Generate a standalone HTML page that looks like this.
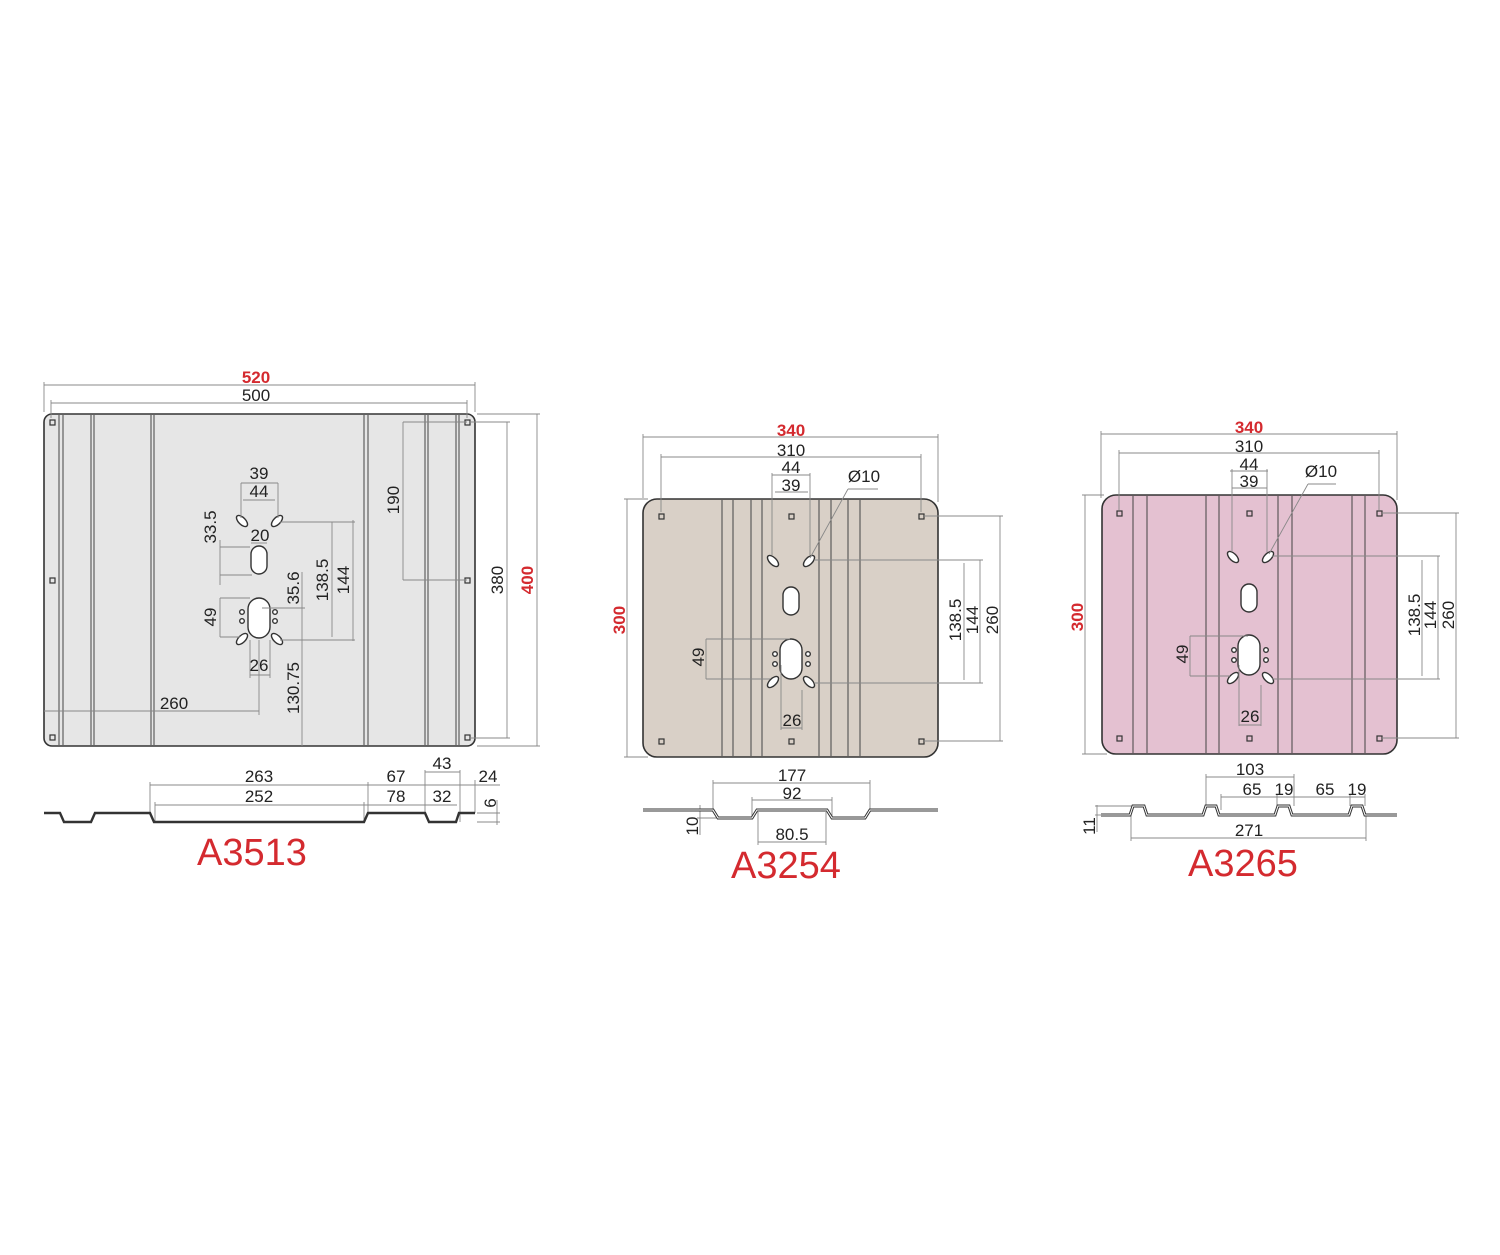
<!DOCTYPE html>
<html><head><meta charset="utf-8"><style>
html,body{margin:0;padding:0;background:#fff}
svg text{font-family:"Liberation Sans",sans-serif;font-size:17px;fill:#222;text-anchor:middle}
.r{fill:#d42a2f !important;font-weight:bold}
.big{font-size:38px;fill:#d42a2f}
.d{stroke:#888;stroke-width:0.9;fill:none}
.p{stroke:#333;stroke-width:1.6}
.g{stroke:#444;stroke-width:1}
.sq{fill:none;stroke:#333;stroke-width:1.2}
.h{fill:#fff;stroke:#333;stroke-width:1.4}
</style></head><body>
<svg width="1500" height="1250" viewBox="0 0 1500 1250" xmlns="http://www.w3.org/2000/svg">
<!-- PLATE 1 -->
<rect x="44" y="414" width="431" height="332" rx="8" fill="#e6e6e6" class="p"/>
<g class="g">
<line x1="59" y1="415" x2="59" y2="745"/><line x1="63" y1="415" x2="63" y2="745"/>
<line x1="91" y1="415" x2="91" y2="745"/><line x1="94" y1="415" x2="94" y2="745"/>
<line x1="151" y1="415" x2="151" y2="745"/><line x1="154" y1="415" x2="154" y2="745"/>
<line x1="364" y1="415" x2="364" y2="745"/><line x1="368" y1="415" x2="368" y2="745"/>
<line x1="425" y1="415" x2="425" y2="745"/><line x1="428" y1="415" x2="428" y2="745"/>
<line x1="456" y1="415" x2="456" y2="745"/><line x1="459" y1="415" x2="459" y2="745"/>
</g>
<g class="sq">
<rect x="50" y="420" width="5" height="5"/><rect x="50" y="578" width="5" height="5"/><rect x="50" y="735" width="5" height="5"/>
<rect x="465" y="420" width="5" height="5"/><rect x="465" y="578" width="5" height="5"/><rect x="465" y="735" width="5" height="5"/>
</g>
<g class="h">
<ellipse cx="242" cy="521" rx="3.5" ry="7" transform="rotate(-45 242 521)"/>
<ellipse cx="277" cy="521" rx="3.5" ry="7" transform="rotate(45 277 521)"/>
<ellipse cx="242" cy="639" rx="3.5" ry="7" transform="rotate(45 242 639)"/>
<ellipse cx="277" cy="639" rx="3.5" ry="7" transform="rotate(-45 277 639)"/>
<rect x="251" y="546" width="16" height="28" rx="8"/>
<rect x="248" y="598" width="22" height="40" rx="11"/>
<circle cx="242" cy="612" r="2.3"/><circle cx="242" cy="621" r="2.3"/>
<circle cx="275" cy="612" r="2.3"/><circle cx="275" cy="621" r="2.3"/>
</g>
<g class="d">
<line x1="44" y1="385" x2="475" y2="385"/><line x1="44" y1="382" x2="44" y2="412"/><line x1="475" y1="382" x2="475" y2="412"/>
<line x1="51" y1="403" x2="467" y2="403"/><line x1="51" y1="400" x2="51" y2="418"/><line x1="467" y1="400" x2="467" y2="418"/>
<line x1="537" y1="414" x2="537" y2="746"/><line x1="477" y1="414" x2="540" y2="414"/><line x1="477" y1="746" x2="540" y2="746"/>
<line x1="507" y1="422" x2="507" y2="738"/><line x1="470" y1="422" x2="510" y2="422"/><line x1="470" y1="738" x2="510" y2="738"/>
<line x1="403" y1="422" x2="403" y2="580"/><line x1="403" y1="422" x2="467" y2="422"/><line x1="403" y1="580" x2="467" y2="580"/>
<line x1="241" y1="483" x2="278" y2="483"/><line x1="241" y1="483" x2="241" y2="518"/><line x1="278" y1="483" x2="278" y2="518"/>
<line x1="243" y1="500" x2="275" y2="500"/>
<line x1="220" y1="540" x2="220" y2="585"/><line x1="220" y1="547" x2="250" y2="547"/><line x1="220" y1="575" x2="252" y2="575"/>
<line x1="251" y1="543" x2="267" y2="543"/>
<line x1="280" y1="522" x2="355" y2="522"/><line x1="280" y1="640" x2="355" y2="640"/>
<line x1="332" y1="522" x2="332" y2="637"/><line x1="353" y1="520" x2="353" y2="641"/>
<line x1="302" y1="572" x2="302" y2="746"/><line x1="262" y1="608" x2="305" y2="608"/>
<line x1="220" y1="598" x2="220" y2="637"/><line x1="220" y1="598" x2="250" y2="598"/><line x1="220" y1="637" x2="240" y2="637"/>
<line x1="250" y1="640" x2="250" y2="678"/><line x1="270" y1="640" x2="270" y2="678"/><line x1="250" y1="675" x2="270" y2="675"/>
<line x1="44" y1="711" x2="259" y2="711"/><line x1="259" y1="640" x2="259" y2="715"/>
<line x1="150" y1="785" x2="460" y2="785"/><line x1="150" y1="782" x2="150" y2="813"/><line x1="368" y1="782" x2="368" y2="813"/><line x1="425" y1="770" x2="425" y2="813"/>
<line x1="460" y1="770" x2="460" y2="822"/><line x1="475" y1="780" x2="475" y2="813"/>
<line x1="425" y1="772" x2="460" y2="772"/><line x1="460" y1="785" x2="500" y2="785"/>
<line x1="155" y1="805" x2="457" y2="805"/><line x1="155" y1="802" x2="155" y2="822"/><line x1="364" y1="802" x2="364" y2="822"/>
<line x1="497" y1="800" x2="497" y2="825"/><line x1="477" y1="813" x2="500" y2="813"/><line x1="477" y1="822" x2="500" y2="822"/>
</g>
<path d="M44,813 L60,813 L64,822 L91,822 L95,813 L150,813 L154,822 L364,822 L368,813 L425,813 L429,822 L456,822 L459,813 L475,813" fill="none" stroke="#333" stroke-width="2.4"/>
<text x="256" y="383" class="r">520</text>
<text x="256" y="401">500</text>
<text x="259" y="479">39</text>
<text x="259" y="497">44</text>
<text x="260" y="541">20</text>
<text x="259" y="671">26</text>
<text x="174" y="709">260</text>
<text transform="translate(216 527) rotate(-90)">33.5</text>
<text transform="translate(216 617) rotate(-90)">49</text>
<text transform="translate(299 588) rotate(-90)">35.6</text>
<text transform="translate(299 688) rotate(-90)">130.75</text>
<text transform="translate(328 580) rotate(-90)">138.5</text>
<text transform="translate(349 580) rotate(-90)">144</text>
<text transform="translate(399 500) rotate(-90)">190</text>
<text transform="translate(503 580) rotate(-90)">380</text>
<text transform="translate(533 580) rotate(-90)" class="r">400</text>
<text x="259" y="782">263</text>
<text x="259" y="802">252</text>
<text x="396" y="782">67</text>
<text x="396" y="802">78</text>
<text x="442" y="769">43</text>
<text x="442" y="802">32</text>
<text x="488" y="782">24</text>
<text transform="translate(496 803) rotate(-90)">6</text>
<text x="252" y="865" class="big">A3513</text>

<!-- PLATE 2 -->
<rect x="643" y="499" width="295" height="258" rx="14" fill="#d9d0c7" class="p"/>
<g class="g">
<line x1="722" y1="500" x2="722" y2="756"/><line x1="733" y1="500" x2="733" y2="756"/>
<line x1="751" y1="500" x2="751" y2="756"/><line x1="762" y1="500" x2="762" y2="756"/>
<line x1="819" y1="500" x2="819" y2="756"/><line x1="831" y1="500" x2="831" y2="756"/>
<line x1="848" y1="500" x2="848" y2="756"/><line x1="860" y1="500" x2="860" y2="756"/>
</g>
<g class="sq">
<rect x="659" y="514" width="5" height="5"/><rect x="789" y="514" width="5" height="5"/><rect x="919" y="514" width="5" height="5"/>
<rect x="659" y="739" width="5" height="5"/><rect x="789" y="739" width="5" height="5"/><rect x="919" y="739" width="5" height="5"/>
</g>
<g class="h">
<ellipse cx="773" cy="561" rx="3.5" ry="7" transform="rotate(-45 773 561)"/>
<ellipse cx="809" cy="561" rx="3.5" ry="7" transform="rotate(45 809 561)"/>
<ellipse cx="773" cy="682" rx="3.5" ry="7" transform="rotate(45 773 682)"/>
<ellipse cx="809" cy="682" rx="3.5" ry="7" transform="rotate(-45 809 682)"/>
<rect x="783" y="587" width="16" height="28" rx="8"/>
<rect x="780" y="639" width="22" height="40" rx="11"/>
<circle cx="775" cy="654" r="2.3"/><circle cx="775" cy="664" r="2.3"/>
<circle cx="808" cy="654" r="2.3"/><circle cx="808" cy="664" r="2.3"/>
</g>
<g class="d">
<line x1="643" y1="437" x2="938" y2="437"/><line x1="643" y1="434" x2="643" y2="498"/><line x1="938" y1="434" x2="938" y2="502"/>
<line x1="661" y1="457" x2="921" y2="457"/><line x1="661" y1="454" x2="661" y2="512"/><line x1="921" y1="454" x2="921" y2="512"/>
<line x1="772" y1="475" x2="810" y2="475"/><line x1="772" y1="473" x2="772" y2="555"/><line x1="810" y1="473" x2="810" y2="555"/>
<line x1="775" y1="492" x2="808" y2="492"/>
<line x1="848" y1="489" x2="878" y2="489"/><line x1="848" y1="489" x2="810" y2="558"/>
<line x1="627" y1="499" x2="627" y2="757"/><line x1="624" y1="499" x2="648" y2="499"/><line x1="624" y1="757" x2="648" y2="757"/>
<line x1="1000" y1="516" x2="1000" y2="741"/><line x1="924" y1="516" x2="1003" y2="516"/><line x1="924" y1="741" x2="1003" y2="741"/>
<line x1="814" y1="560" x2="983" y2="560"/><line x1="814" y1="683" x2="983" y2="683"/>
<line x1="980" y1="560" x2="980" y2="683"/><line x1="964" y1="563" x2="964" y2="680"/>
<line x1="706" y1="639" x2="706" y2="679"/><line x1="706" y1="639" x2="790" y2="639"/><line x1="706" y1="679" x2="770" y2="679"/>
<line x1="781" y1="665" x2="781" y2="730"/><line x1="802" y1="690" x2="802" y2="730"/><line x1="781" y1="728" x2="802" y2="728"/>
<line x1="713" y1="783" x2="870" y2="783"/><line x1="713" y1="780" x2="713" y2="810"/><line x1="870" y1="780" x2="870" y2="810"/>
<line x1="752" y1="800" x2="832" y2="800"/><line x1="752" y1="797" x2="752" y2="818"/><line x1="832" y1="797" x2="832" y2="818"/>
<line x1="758" y1="842" x2="826" y2="842"/><line x1="758" y1="812" x2="758" y2="845"/><line x1="826" y1="812" x2="826" y2="845"/>
<line x1="700" y1="805" x2="700" y2="835"/><line x1="697" y1="810" x2="713" y2="810"/><line x1="697" y1="818" x2="718" y2="818"/>
</g>
<path d="M643,810 L713,810 L718,818 L752,818 L757,810 L827,810 L832,818 L865,818 L870,810 L938,810" fill="none" stroke="#333" stroke-width="3"/>
<path d="M643,810 L713,810 L718,818 L752,818 L757,810 L827,810 L832,818 L865,818 L870,810 L938,810" fill="none" stroke="#fff" stroke-width="1"/>
<text x="791" y="436" class="r">340</text>
<text x="791" y="456">310</text>
<text x="791" y="473">44</text>
<text x="791" y="491">39</text>
<text x="864" y="482">Ø10</text>
<text x="792" y="726">26</text>
<text transform="translate(625 620) rotate(-90)" class="r">300</text>
<text transform="translate(704 657) rotate(-90)">49</text>
<text transform="translate(961 620) rotate(-90)">138.5</text>
<text transform="translate(978 620) rotate(-90)">144</text>
<text transform="translate(998 620) rotate(-90)">260</text>
<text x="792" y="781">177</text>
<text x="792" y="799">92</text>
<text x="792" y="840">80.5</text>
<text transform="translate(698 826) rotate(-90)">10</text>
<text x="786" y="878" class="big">A3254</text>

<!-- PLATE 3 -->
<rect x="1102" y="495" width="295" height="259" rx="14" fill="#e4c1d1" class="p"/>
<g class="g">
<line x1="1133" y1="496" x2="1133" y2="753"/><line x1="1147" y1="496" x2="1147" y2="753"/>
<line x1="1206" y1="496" x2="1206" y2="753"/><line x1="1219" y1="496" x2="1219" y2="753"/>
<line x1="1278" y1="496" x2="1278" y2="753"/><line x1="1292" y1="496" x2="1292" y2="753"/>
<line x1="1352" y1="496" x2="1352" y2="753"/><line x1="1365" y1="496" x2="1365" y2="753"/>
</g>
<g class="sq">
<rect x="1117" y="511" width="5" height="5"/><rect x="1247" y="511" width="5" height="5"/><rect x="1377" y="511" width="5" height="5"/>
<rect x="1117" y="736" width="5" height="5"/><rect x="1247" y="736" width="5" height="5"/><rect x="1377" y="736" width="5" height="5"/>
</g>
<g class="h">
<ellipse cx="1233" cy="557" rx="3.5" ry="7" transform="rotate(-45 1233 557)"/>
<ellipse cx="1268" cy="557" rx="3.5" ry="7" transform="rotate(45 1268 557)"/>
<ellipse cx="1233" cy="678" rx="3.5" ry="7" transform="rotate(45 1233 678)"/>
<ellipse cx="1268" cy="678" rx="3.5" ry="7" transform="rotate(-45 1268 678)"/>
<rect x="1241" y="584" width="16" height="28" rx="8"/>
<rect x="1238" y="635" width="22" height="40" rx="11"/>
<circle cx="1234" cy="650" r="2.3"/><circle cx="1234" cy="660" r="2.3"/>
<circle cx="1266" cy="650" r="2.3"/><circle cx="1266" cy="660" r="2.3"/>
</g>
<g class="d">
<line x1="1101" y1="434" x2="1397" y2="434"/><line x1="1101" y1="431" x2="1101" y2="498"/><line x1="1397" y1="431" x2="1397" y2="500"/>
<line x1="1119" y1="453" x2="1379" y2="453"/><line x1="1119" y1="450" x2="1119" y2="510"/><line x1="1379" y1="450" x2="1379" y2="510"/>
<line x1="1230" y1="471" x2="1268" y2="471"/><line x1="1232" y1="469" x2="1232" y2="552"/><line x1="1267" y1="469" x2="1267" y2="552"/>
<line x1="1232" y1="488" x2="1267" y2="488"/>
<line x1="1308" y1="484" x2="1336" y2="484"/><line x1="1308" y1="484" x2="1269" y2="554"/>
<line x1="1085" y1="495" x2="1085" y2="754"/><line x1="1082" y1="495" x2="1104" y2="495"/><line x1="1082" y1="754" x2="1107" y2="754"/>
<line x1="1456" y1="513" x2="1456" y2="738"/><line x1="1382" y1="513" x2="1459" y2="513"/><line x1="1382" y1="738" x2="1459" y2="738"/>
<line x1="1272" y1="556" x2="1440" y2="556"/><line x1="1272" y1="679" x2="1440" y2="679"/>
<line x1="1438" y1="556" x2="1438" y2="679"/><line x1="1422" y1="560" x2="1422" y2="676"/>
<line x1="1190" y1="636" x2="1190" y2="676"/><line x1="1190" y1="636" x2="1248" y2="636"/><line x1="1190" y1="676" x2="1230" y2="676"/>
<line x1="1239" y1="665" x2="1239" y2="726"/><line x1="1261" y1="685" x2="1261" y2="726"/><line x1="1239" y1="725" x2="1261" y2="725"/>
<line x1="1206" y1="777" x2="1294" y2="777"/><line x1="1206" y1="774" x2="1206" y2="806"/><line x1="1294" y1="774" x2="1294" y2="806"/>
<line x1="1221" y1="797" x2="1365" y2="797"/><line x1="1221" y1="794" x2="1221" y2="810"/><line x1="1277" y1="794" x2="1277" y2="806"/><line x1="1350" y1="794" x2="1350" y2="806"/><line x1="1365" y1="794" x2="1365" y2="806"/>
<line x1="1131" y1="838" x2="1366" y2="838"/><line x1="1131" y1="815" x2="1131" y2="841"/><line x1="1366" y1="815" x2="1366" y2="841"/>
<line x1="1097" y1="805" x2="1097" y2="832"/><line x1="1095" y1="806" x2="1132" y2="806"/><line x1="1095" y1="815" x2="1101" y2="815"/>
</g>
<path d="M1101,815 L1130,815 L1133,806 L1144,806 L1147,815 L1203,815 L1206,806 L1216,806 L1219,815 L1275,815 L1278,806 L1289,806 L1292,815 L1349,815 L1352,806 L1362,806 L1365,815 L1397,815" fill="none" stroke="#333" stroke-width="3"/>
<path d="M1101,815 L1130,815 L1133,806 L1144,806 L1147,815 L1203,815 L1206,806 L1216,806 L1219,815 L1275,815 L1278,806 L1289,806 L1292,815 L1349,815 L1352,806 L1362,806 L1365,815 L1397,815" fill="none" stroke="#fff" stroke-width="1"/>
<text x="1249" y="433" class="r">340</text>
<text x="1249" y="452">310</text>
<text x="1249" y="470">44</text>
<text x="1249" y="487">39</text>
<text x="1321" y="477">Ø10</text>
<text x="1250" y="722">26</text>
<text transform="translate(1083 617) rotate(-90)" class="r">300</text>
<text transform="translate(1188 654) rotate(-90)">49</text>
<text transform="translate(1420 615) rotate(-90)">138.5</text>
<text transform="translate(1436 615) rotate(-90)">144</text>
<text transform="translate(1454 615) rotate(-90)">260</text>
<text x="1250" y="775">103</text>
<text x="1252" y="795">65</text>
<text x="1284" y="795">19</text>
<text x="1325" y="795">65</text>
<text x="1357" y="795">19</text>
<text x="1249" y="836">271</text>
<text transform="translate(1095 826) rotate(-90)">11</text>
<text x="1243" y="876" class="big">A3265</text>
</svg>
</body></html>
